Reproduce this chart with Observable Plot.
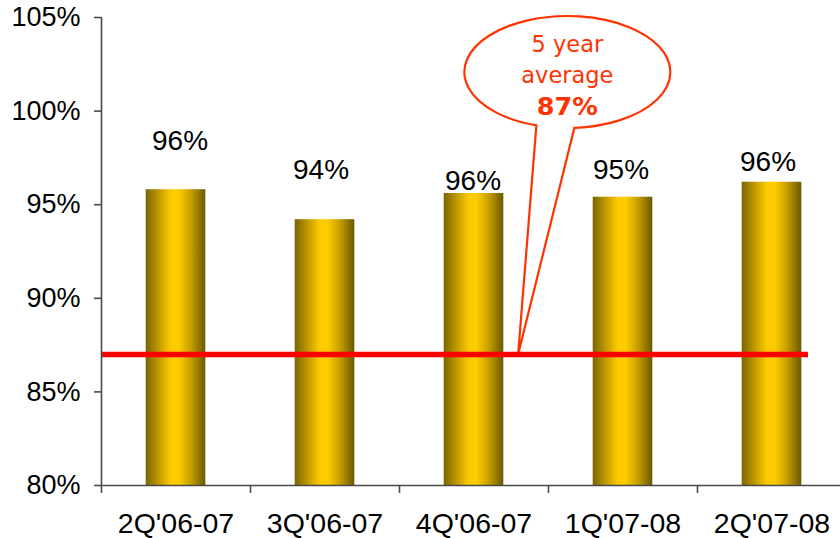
<!DOCTYPE html>
<html>
<head>
<meta charset="utf-8">
<script src="https://cdn.jsdelivr.net/npm/d3@7"></script>
<script src="https://cdn.jsdelivr.net/npm/@observablehq/plot@0.6"></script>
<style>
  html, body { margin: 0; padding: 0; background: #fff; overflow: hidden; }
  #chart svg { display: block; }
</style>
</head>
<body>
<div id="chart"></div>
<script>
// Quarterly utilisation against the five-year average
const quarters = ["2Q'06-07", "3Q'06-07", "4Q'06-07", "1Q'07-08", "2Q'07-08"];
const utilisation = [0.958, 0.942, 0.956, 0.954, 0.962];
const fiveYearAverage = 0.87;
const yTicks = [0.80, 0.85, 0.90, 0.95, 1.00, 1.05];

// Value labels were placed by hand: lift above the bar top and sideways nudge (px)
const labelLift = [49, 50, 12, 27, 20];
const labelShift = [4, -4, -1, -2, -4];

// Callout bubble placement (x in category index units, y in share units)
const calloutAt = {x: 3.13, y: 1.0206};
const calloutTipX = 2.8;

const pct = d3.format(".0%");
const font = "'Liberation Sans', Arial, sans-serif";
const calloutFont = "'DejaVu Sans', Verdana, sans-serif";
const axisColor = "#4a4a4a";

const rows = quarters.map((q, i) => ({q, i, v: utilisation[i]}));

function callout(index, scales) {
  const x = scales.x, y = scales.y;
  const cx = x(calloutAt.x), cy = y(calloutAt.y);
  const rx = 103, ry = 56;
  const a = -31, b = 7; // where the tail leaves the ellipse, relative to its centre
  const ya = ry * Math.sqrt(1 - (a / rx) ** 2);
  const yb = ry * Math.sqrt(1 - (b / rx) ** 2);
  const tipX = x(calloutTipX), tipY = y(fiveYearAverage);
  const g = d3.create("svg:g");
  g.append("path")
    .attr("d", `M${cx + a},${cy + ya}A${rx},${ry} 0 1 1 ${cx + b},${cy + yb}L${tipX},${tipY}Z`)
    .attr("fill", "white")
    .attr("stroke", "#ff3300")
    .attr("stroke-width", 2.2);
  const t = g.append("text")
    .attr("text-anchor", "middle")
    .attr("fill", "#ff3300")
    .attr("font-family", calloutFont)
    .attr("font-size", 22.5);
  t.append("tspan").attr("x", cx).attr("y", cy - 20).text("5 year");
  t.append("tspan").attr("x", cx).attr("y", cy + 11).text("average");
  t.append("tspan").attr("x", cx).attr("y", cy + 43)
    .attr("font-weight", "bold").attr("font-size", 25.5).text(pct(fiveYearAverage));
  return g.node();
}

const chart = Plot.plot({
  width: 840,
  height: 538,
  marginLeft: 101,
  marginRight: -6,
  marginTop: 17,
  marginBottom: 53,
  style: {fontFamily: font, background: "white", maxWidth: "none", overflow: "visible"},
  x: {type: "linear", domain: [0, quarters.length]},
  y: {domain: [0.80, 1.05]},
  marks: [
    Plot.rectY(rows, {
      x1: d => d.i + 0.3,
      x2: d => d.i + 0.7,
      y1: 0.80,
      y2: "v",
      fill: "url(#goldBar)"
    }),
    ...rows.map((d, k) => Plot.text([d], {
      x: r => r.i + 0.5,
      y: "v",
      text: r => pct(r.v),
      dy: -labelLift[k],
      dx: labelShift[k],
      fontSize: 28,
      fill: "black"
    })),
    callout,
    Plot.ruleY([fiveYearAverage], {x1: 0, x2: 4.745, stroke: "#ff0000", strokeWidth: 5.5}),
    Plot.ruleX([0], {stroke: axisColor, strokeWidth: 1.6}),
    Plot.ruleY([0.80], {stroke: axisColor, strokeWidth: 1.6}),
    Plot.axisY({
      ticks: yTicks,
      tickFormat: pct,
      tickSize: 7,
      tickPadding: 14,
      fontSize: 27,
      stroke: axisColor,
      strokeWidth: 1.6,
      color: "black",
      label: null
    }),
    Plot.axisX({
      ticks: d3.range(quarters.length + 1),
      tickFormat: () => "",
      tickSize: 8,
      stroke: axisColor,
      strokeWidth: 1.6,
      label: null
    }),
    Plot.axisX({
      ticks: quarters.map((q, i) => i + 0.5),
      tickFormat: t => quarters[Math.floor(t)],
      tickSize: 0,
      tickPadding: 27,
      fontSize: 28.5,
      color: "black",
      label: null
    })
  ]
});

// Horizontal metallic gold shading used by the bars
d3.select(chart).insert("defs", ":first-child").html(`
  <linearGradient id="goldBar" x1="0" y1="0" x2="1" y2="0">
    <stop offset="0" stop-color="#7a6400"/>
    <stop offset="0.22" stop-color="#c19a00"/>
    <stop offset="0.42" stop-color="#fcca00"/>
    <stop offset="0.55" stop-color="#ffcc00"/>
    <stop offset="0.75" stop-color="#c9a000"/>
    <stop offset="1" stop-color="#6a5800"/>
  </linearGradient>`);

document.getElementById("chart").appendChild(chart);
</script>
</body>
</html>
